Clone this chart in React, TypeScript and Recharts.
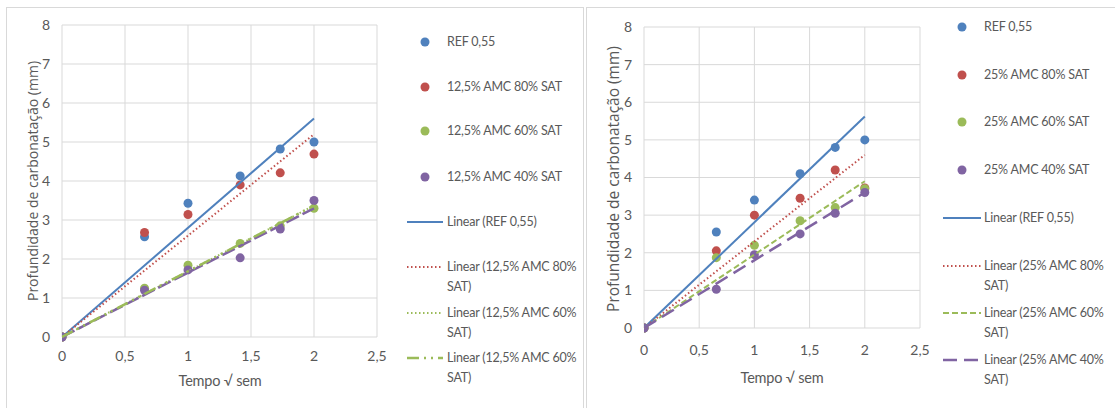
import React from 'react'
import { ScatterChart, Scatter, XAxis, YAxis, CartesianGrid } from 'recharts'

// ---- dados: profundidade de carbonatação x tempo (√ semanas) ----
const tempo = [0, 0.655, 1, 1.414, 1.732, 2]
const xTicks = [0, 0.5, 1, 1.5, 2, 2.5]
const yTicks = [0, 1, 2, 3, 4, 5, 6, 7, 8]
const trendX = [0, 2]

// 12,5% AMC
const ref55A = [0, 2.57, 3.43, 4.13, 4.82, 5.0]
const amc125_80 = [0, 2.68, 3.14, 3.9, 4.21, 4.69]
const amc125_60 = [0, 1.25, 1.84, 2.4, 2.85, 3.3]
const amc125_40 = [0, 1.2, 1.72, 2.03, 2.77, 3.5]
const trendRefA = [0, 5.6]
const trend125_80 = [0, 5.2]
const trend125_60 = [0, 3.37]
const trend125_40 = [0, 3.3]

// 25% AMC
const ref55B = [0, 2.55, 3.4, 4.1, 4.8, 5.0]
const amc25_80 = [0, 2.05, 3.0, 3.45, 4.2, 3.72]
const amc25_60 = [0, 1.87, 2.2, 2.85, 3.2, 3.7]
const amc25_40 = [0, 1.03, 1.95, 2.5, 3.05, 3.6]
const trendRefB = [0, 5.62]
const trend25_80 = [0, 4.6]
const trend25_60 = [0, 3.9]
const trend25_40 = [0, 3.6]

const BLUE = '#4F81BD'
const RED = '#C0504D'
const GREEN = '#9BBB59'
const PURPLE = '#8064A2'
const TEXT = '#595959'
const GRID = '#D9D9D9'
const NARROW_STYLE = { fontFamily: 'Lato, sans-serif' }

const pts = (xs: number[], ys: number[]) => xs.map((x, i) => ({ x, y: ys[i] }))
const fmt = (v: number) => String(v).replace('.', ',')

type Pts = { name: string; color: string; data: number[] }
type Trend = { color: string; data: number[]; dash?: string; width?: number }

const dot = (color: string) => (p: any) => <circle cx={p.cx} cy={p.cy} r={4.5} fill={color} />
const noDot = () => <g />

function Panel({
  width, top, right, bottom, yWidth, xMargin, points, trends,
}: {
  width: number; top: number; right: number; bottom: number; yWidth: number; xMargin: number
  points: Pts[]; trends: Trend[]
}) {
  const tick = { fontSize: 14, fill: TEXT, ...NARROW_STYLE }
  return (
    <ScatterChart width={width} height={408} margin={{ top, right, bottom, left: 0 }}>
      <CartesianGrid stroke={GRID} strokeWidth={1} />
      <XAxis
        type="number" dataKey="x" domain={[0, 2.5]} ticks={xTicks} tickFormatter={fmt}
        axisLine={false} tickLine={false} tickMargin={xMargin} tick={tick} height={30}
        allowDataOverflow
      />
      <YAxis
        type="number" dataKey="y" domain={[0, 8]} ticks={yTicks}
        axisLine={false} tickLine={false} tickMargin={6} tick={tick} width={yWidth}
      />
      {points.map(s => (
        <Scatter key={s.name} data={pts(tempo, s.data)} shape={dot(s.color)} isAnimationActive={false} />
      ))}
      {trends.map((t, i) => (
        <Scatter
          key={'t' + i}
          data={pts(trendX, t.data)}
          shape={noDot}
          line={{ stroke: t.color, strokeWidth: t.width ?? 2, strokeDasharray: t.dash }}
          isAnimationActive={false}
        />
      ))}
    </ScatterChart>
  )
}

type LegendRow = { y: number; label: string[]; color: string; kind: 'dot' | 'line'; dash?: string; width?: number }

function Legend({ left, lineFrom, lineTo, textX, rows }: {
  left: number; lineFrom: number; lineTo: number; textX: number; rows: LegendRow[]
}) {
  return (
    <>
      {rows.map((r, i) => (
        <div key={i} style={{ position: 'absolute', left: 0, top: r.y - 10, width: 1115 }}>
          <svg style={{ position: 'absolute', left: 0, top: 0 }} width={1115} height={20}>
            {r.kind === 'dot'
              ? <circle cx={left} cy={10} r={4.5} fill={r.color} />
              : <line x1={lineFrom} x2={lineTo} y1={10} y2={10} stroke={r.color}
                  strokeWidth={r.width ?? 2} strokeDasharray={r.dash} />}
          </svg>
          <div style={{
            position: 'absolute', left: textX, top: 0, ...NARROW_STYLE, fontSize: 12.5,
            letterSpacing: -0.2, color: TEXT, lineHeight: '20px', whiteSpace: 'nowrap',
          }}>
            {r.label.map((l, j) => <div key={j}>{l}</div>)}
          </div>
        </div>
      ))}
    </>
  )
}

function YTitle({ x, y, size }: { x: number; y: number; size: number }) {
  return (
    <div style={{
      position: 'absolute', left: x, top: y, transform: 'translate(-50%, -50%) rotate(-90deg)',
      fontFamily: '"Open Sans", sans-serif', fontSize: size, color: TEXT, whiteSpace: 'nowrap',
    }}>
      Profundidade de carbonatação (mm)
    </div>
  )
}

function XTitle({ x, y }: { x: number; y: number }) {
  return (
    <div style={{
      position: 'absolute', left: x, top: y, transform: 'translate(-50%, -50%)',
      ...NARROW_STYLE, fontSize: 14.5, letterSpacing: -0.2, color: TEXT, whiteSpace: 'nowrap',
    }}>
      Tempo √ sem
    </div>
  )
}

export default function App() {
  return (
    <div style={{ position: 'absolute', left: 0, top: 0, width: 1115, height: 408, background: '#fff', overflow: 'hidden' }}>
      {/* molduras */}
      <div style={{ position: 'absolute', left: 6, top: 7, width: 576, height: 420, border: `1px solid ${GRID}` }} />
      <div style={{ position: 'absolute', left: 586, top: 7, width: 560, height: 420, border: `1px solid ${GRID}` }} />

      {/* 12,5% AMC */}
      <div style={{ position: 'absolute', left: 0, top: 0 }}>
        <Panel
          width={400} top={25} right={23} bottom={41} yWidth={62} xMargin={8}
          points={[
            { name: 'ref', color: BLUE, data: ref55A },
            { name: '80', color: RED, data: amc125_80 },
            { name: '60', color: GREEN, data: amc125_60 },
            { name: '40', color: PURPLE, data: amc125_40 },
          ]}
          trends={[
            { color: BLUE, data: trendRefA },
            { color: RED, data: trend125_80, dash: '1.5 2.5' },
            { color: GREEN, data: trend125_60, dash: '1.5 2.5' },
            { color: PURPLE, data: trend125_40, dash: '14 4', width: 2.5 },
            { color: GREEN, data: trend125_60, dash: '12 5 2 5 2 5', width: 2.5 },
          ]}
        />
      </div>
      <YTitle x={32} y={181} size={14} />
      <XTitle x={220} y={380} />
      <Legend
        left={425} lineFrom={407} lineTo={443} textX={447}
        rows={[
          { y: 42, label: ['REF 0,55'], color: BLUE, kind: 'dot' },
          { y: 87, label: ['12,5% AMC 80% SAT'], color: RED, kind: 'dot' },
          { y: 131, label: ['12,5% AMC 60% SAT'], color: GREEN, kind: 'dot' },
          { y: 177, label: ['12,5% AMC 40% SAT'], color: PURPLE, kind: 'dot' },
          { y: 222, label: ['Linear (REF 0,55)'], color: BLUE, kind: 'line' },
          { y: 267, label: ['Linear (12,5% AMC 80%', 'SAT)'], color: RED, kind: 'line', dash: '1.5 2.5' },
          { y: 313, label: ['Linear (12,5% AMC 60%', 'SAT)'], color: GREEN, kind: 'line', dash: '1.5 2.5' },
          { y: 358, label: ['Linear (12,5% AMC 60%', 'SAT)'], color: GREEN, kind: 'line', dash: '12 5 2 5 2 5', width: 2.5 },
        ]}
      />

      {/* 25% AMC */}
      <div style={{ position: 'absolute', left: 580, top: 0 }}>
        <Panel
          width={360} top={27} right={20} bottom={50} yWidth={64} xMargin={11}
          points={[
            { name: 'ref', color: BLUE, data: ref55B },
            { name: '80', color: RED, data: amc25_80 },
            { name: '60', color: GREEN, data: amc25_60 },
            { name: '40', color: PURPLE, data: amc25_40 },
          ]}
          trends={[
            { color: BLUE, data: trendRefB },
            { color: RED, data: trend25_80, dash: '1.5 2.5' },
            { color: GREEN, data: trend25_60, dash: '6 3' },
            { color: PURPLE, data: trend25_40, dash: '14 7', width: 2.5 },
          ]}
        />
      </div>
      <YTitle x={613} y={179} size={15.5} />
      <XTitle x={782} y={377} />
      <Legend
        left={962} lineFrom={943} lineTo={981} textX={984}
        rows={[
          { y: 27, label: ['REF 0,55'], color: BLUE, kind: 'dot' },
          { y: 75, label: ['25% AMC 80% SAT'], color: RED, kind: 'dot' },
          { y: 122, label: ['25% AMC 60% SAT'], color: GREEN, kind: 'dot' },
          { y: 170, label: ['25% AMC 40% SAT'], color: PURPLE, kind: 'dot' },
          { y: 218, label: ['Linear (REF 0,55)'], color: BLUE, kind: 'line' },
          { y: 266, label: ['Linear (25% AMC 80%', 'SAT)'], color: RED, kind: 'line', dash: '1.5 2.5' },
          { y: 313, label: ['Linear (25% AMC 60%', 'SAT)'], color: GREEN, kind: 'line', dash: '6 3' },
          { y: 360, label: ['Linear (25% AMC 40%', 'SAT)'], color: PURPLE, kind: 'line', dash: '14 7', width: 2.5 },
        ]}
      />
    </div>
  )
}
